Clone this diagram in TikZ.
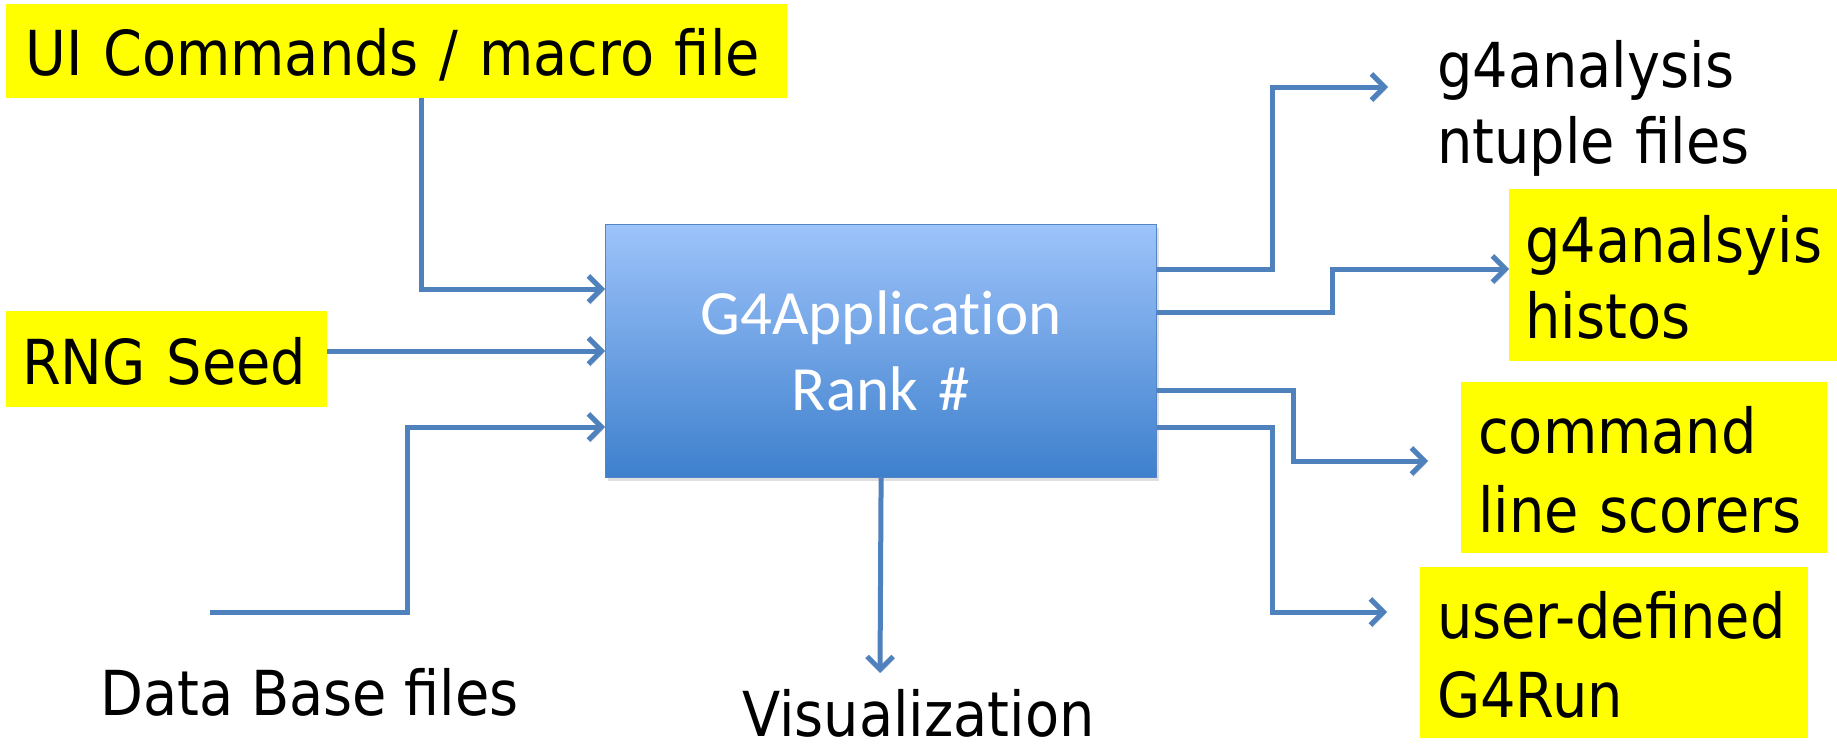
\documentclass[tikz,border=0pt]{standalone}
\usepackage{fontspec}
\usetikzlibrary{arrows.meta,shadows}
\newfontfamily\lblfont[FakeStretch=0.9]{DejaVu Sans}
\newfontfamily\appfont[Ligatures=NoCommon]{Carlito}
\definecolor{connblue}{RGB}{79,129,189}
\definecolor{apptop}{RGB}{157,195,250}
\definecolor{appbot}{RGB}{62,128,205}
\definecolor{appedge}{RGB}{84,132,200}
\definecolor{hl}{RGB}{255,255,0}
\tikzset{
  conn/.style={draw=connblue, line width=5pt, -{Straight Barb[length=13pt,width=26pt]},
    preaction={draw=black!15, transform canvas={shift={(1.5pt,-2.5pt)}}}},
  ybox/.style={fill=hl, inner ysep=0pt, align=left, anchor=north west,
    font=\lblfont\fontsize{62}{77}\selectfont},
  plainlbl/.style={inner sep=0pt, anchor=base west,
    font=\lblfont\fontsize{62}{76}\selectfont},
  appbox/.style={top color=apptop, bottom color=appbot, draw=appedge, line width=1.2pt,
    drop shadow={shadow xshift=2pt, shadow yshift=-3pt, opacity=0.25},
    text=white, align=center, inner sep=0pt, text width=551pt,
    font=\appfont\fontsize{63}{76}\selectfont}
}
\begin{document}
\begin{tikzpicture}[x=1pt,y=-1pt]
\useasboundingbox (0,0) rectangle (1837,747);
\fill[white] (0,0) rectangle (1837,747);

% main box
\node[appbox, anchor=north west, text height=110pt, text depth=143pt] (app) at (605,224)
  {G4Application\\Rank \#};

% inputs
\node[ybox, inner xsep=19pt, text width=743pt, text height=71pt, text depth=23pt] (ui) at (6,4)
  {\mbox{UI Commands / macro file}};
\node[ybox, inner xsep=16pt, text width=289pt, text height=73pt, text depth=23pt] (rng) at (6,311)
  {\mbox{RNG Seed}};
\node[plainlbl] (db) at (100,715) {Data Base files};
\node[plainlbl] (vis) at (742,736) {Visualization};

% outputs
\node[plainlbl, align=left, text width=400pt] (ntuple) at (1437,87) {g4analysis\\ntuple files};
\node[ybox, inner xsep=16pt, text width=296pt, text height=73pt, text depth=99pt,
  font=\lblfont\fontsize{62}{76}\selectfont] (histos) at (1509,189)
  {g4analsyis\\histos};
\node[ybox, inner xsep=17pt, text width=332pt, text height=71pt, text depth=100pt,
  font=\lblfont\fontsize{62}{79}\selectfont] (scorers) at (1461,382)
  {command\\line scorers};
\node[ybox, inner xsep=17pt, text width=354pt, text height=71pt, text depth=100pt,
  font=\lblfont\fontsize{62}{79}\selectfont] (g4run) at (1420,567)
  {user-defined\\G4Run};

% helper coordinates
\coordinate (b1) at (421,289);
\coordinate (b2) at (327,351);
\coordinate (dbs) at (210,612);
\coordinate (b3) at (407,427);
\coordinate (visT) at (880,673);
\coordinate (r1) at (1272,269);
\coordinate (t1) at (1388,87);
\coordinate (r2) at (1332,312);
\coordinate (r3) at (1293,390);
\coordinate (t3) at (1428,461);
\coordinate (r4) at (1272,427);
\coordinate (t4) at (1387,612);

% connectors
\draw[conn] (ui.south -| b1) -- (b1) -- (app.west |- b1);
\draw[conn] (rng.east |- b2) -- (app.west |- b2);
\draw[conn] (dbs) -| (b3) -- (app.west |- b3);
\draw[conn] (app.south) -- (visT);
\draw[conn] (app.east |- r1) -- (r1) |- (t1);
\draw[conn] (app.east |- r2) -- (r2) |- (histos.west |- r1);
\draw[conn] (app.east |- r3) -- (r3) |- (t3);
\draw[conn] (app.east |- r4) -- (r4) |- (t4);
\end{tikzpicture}
\end{document}
